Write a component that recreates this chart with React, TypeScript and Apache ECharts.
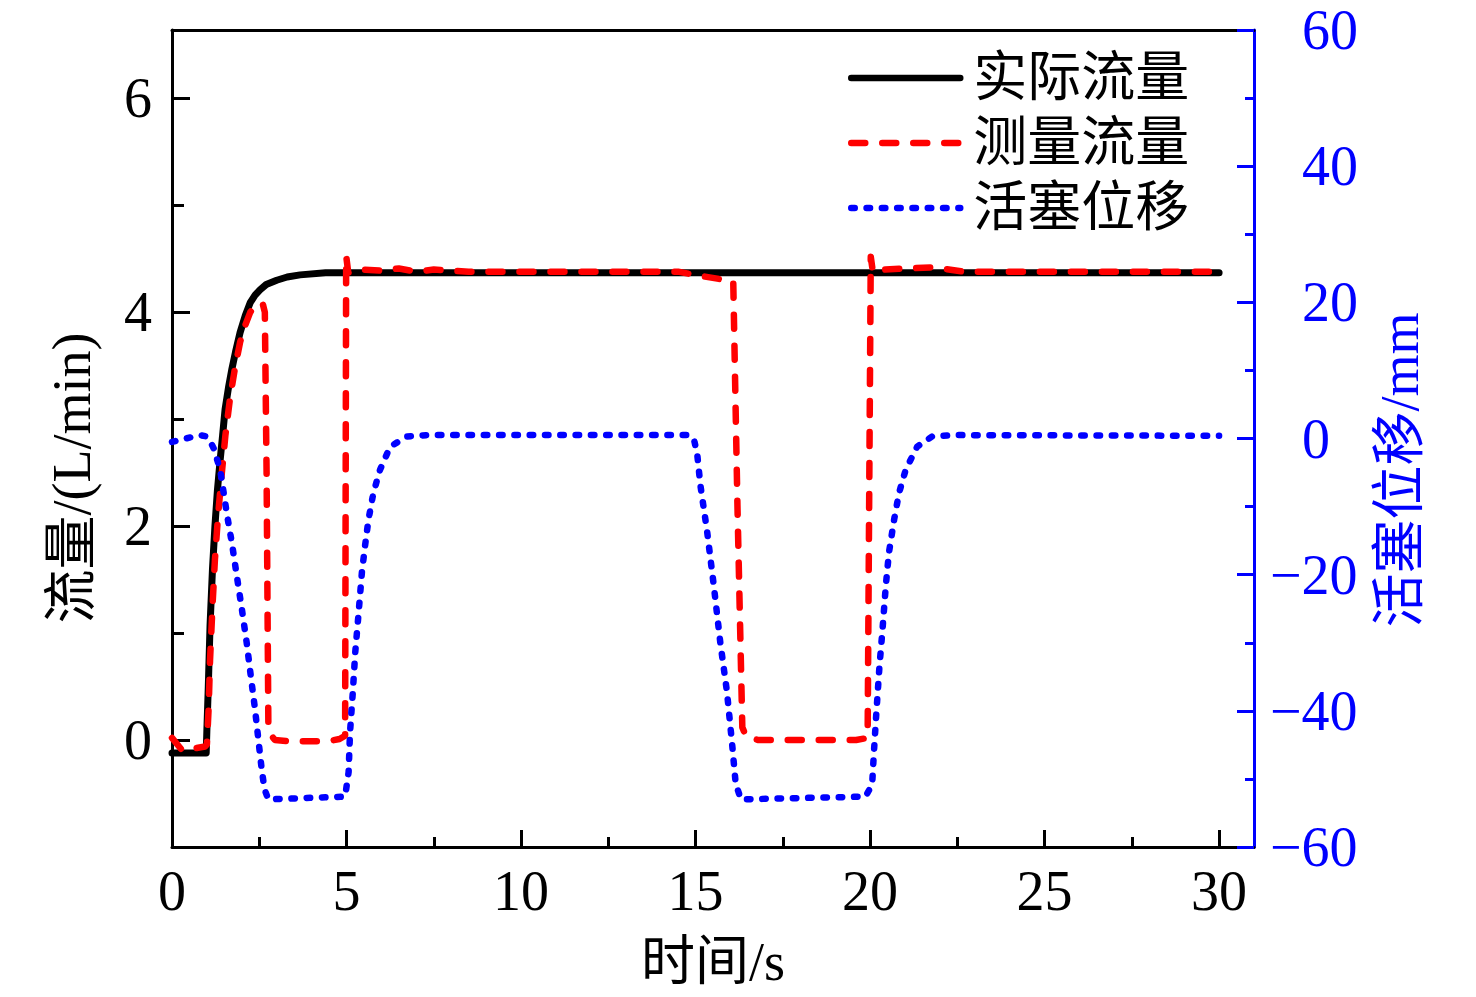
import React, { useEffect, useRef } from "react";
import * as echarts from "echarts";

// ---- data ----
const actualTime = [0, 0.98, 1.0, 1.04, 1.09, 1.16, 1.23, 1.3, 1.38, 1.45, 1.52, 1.62, 1.71, 1.82, 1.95, 2.1, 2.24, 2.38, 2.52, 2.7, 3.0, 3.3, 3.67, 4.4, 30];
const actualFlow = [-0.12, -0.12, 0.1, 0.5, 1.07, 1.6, 2.0, 2.33, 2.62, 2.85, 3.09, 3.3, 3.46, 3.63, 3.81, 3.97, 4.09, 4.16, 4.21, 4.26, 4.3, 4.33, 4.35, 4.37, 4.37];

const measuredTime = [0, 0.3, 0.6, 0.95, 1.0, 1.05, 1.09, 1.16, 1.23, 1.32, 1.42, 1.53, 1.66, 1.8, 1.95, 2.1, 2.24, 2.38, 2.52, 2.6, 2.66, 2.71, 2.76, 2.83, 2.95, 3.3, 4.5, 4.8, 4.96, 4.99, 5.05, 5.4, 6.0, 6.5, 7.0, 7.5, 8.5, 14.5, 15.15, 15.9, 16.08, 16.2, 16.34, 16.45, 16.8, 19.6, 19.93, 20.02, 20.08, 20.4, 21.0, 21.8, 22.7, 30];
const measuredFlow = [0.02, -0.1, -0.08, -0.06, -0.04, 0.3, 0.75, 1.25, 1.69, 2.1, 2.47, 2.85, 3.19, 3.47, 3.72, 3.88, 4.0, 4.06, 4.09, 4.08, 4.0, 2.5, 0.17, 0.05, 0.0, -0.01, -0.01, 0.01, 0.04, 4.53, 4.37, 4.4, 4.39, 4.41, 4.38, 4.4, 4.38, 4.38, 4.34, 4.3, 4.29, 2.2, 0.12, 0.03, 0.0, 0.0, 0.02, 4.52, 4.38, 4.4, 4.41, 4.42, 4.38, 4.38];

const pistonTime = [0, 0.4, 0.8, 1.0, 1.1, 1.2, 1.38, 1.57, 1.72, 1.86, 2.0, 2.14, 2.26, 2.38, 2.48, 2.57, 2.65, 2.76, 4.96, 5.06, 5.1, 5.18, 5.25, 5.34, 5.44, 5.53, 5.63, 5.77, 5.96, 6.25, 6.73, 7.3, 14.8, 14.95, 15.05, 15.14, 15.33, 15.52, 15.71, 15.9, 16.05, 16.15, 16.3, 19.87, 20.06, 20.11, 20.18, 20.27, 20.35, 20.45, 20.54, 20.69, 20.83, 21.02, 21.35, 21.78, 22.36, 30];
const pistonDisp = [-0.5, 0, 0.5, 0.3, -0.5, -1.5, -4.6, -11, -15.5, -20.3, -25, -30, -35, -39.8, -44.5, -48.6, -51.5, -53, -52.6, -49, -43.2, -37.3, -31.4, -26, -19.7, -15.8, -11.9, -8, -4.6, -1.2, 0.3, 0.5, 0.5, 0, -2.4, -6.9, -13.6, -21.5, -30, -37.2, -45, -50.7, -53, -52.6, -50.8, -46.1, -40.3, -33.4, -28.5, -21.7, -16.8, -11.9, -8, -4.6, -1.2, 0.3, 0.5, 0.4];

const xMajorTicks = [0, 5, 10, 15, 20, 25, 30];
const xMinorTicks = [2.5, 7.5, 12.5, 17.5, 22.5, 27.5];
const leftMajorTicks = [0, 2, 4, 6];
const leftMinorTicks = [1, 3, 5];

const seriesNames = ["实际流量", "测量流量", "活塞位移"];
const xTitle = "时间/s";
const leftTitle = "流量/(L/min)";
const rightTitle = "活塞位移/mm";

const FONT = '"Liberation Serif", "Times New Roman", "Noto Sans CJK SC", serif';
const BLACK = "#000000";
const RED = "#ff0000";
const BLUE = "#0000ff";

const pairs = (xs: number[], ys: number[]) => xs.map((x, i) => [x, ys[i]]);

function buildOption(): any {
  return {
    animation: false,
    backgroundColor: "#ffffff",
    grid: { left: 172, right: 222, top: 30, bottom: 150 },
    legend: {
      orient: "vertical",
      left: 848,
      top: 50,
      padding: 0,
      itemWidth: 109,
      itemHeight: 20,
      itemGap: 9,
      selectedMode: false,
      data: seriesNames,
      itemStyle: { opacity: 0 },
      lineStyle: { width: 6.5 },
      textStyle: {
        fontFamily: FONT,
        fontSize: 54,
        lineHeight: 56,
        color: BLACK,
        padding: [0, 0, 0, 8],
      },
    },
    xAxis: [
      {
        type: "value",
        min: 0,
        max: 31,
        position: "bottom",
        name: xTitle,
        nameLocation: "middle",
        nameGap: 88,
        nameTextStyle: { fontFamily: FONT, fontSize: 54, color: BLACK },
        axisLine: { show: true, onZero: false, lineStyle: { color: BLACK, width: 3 } },
        axisTick: {
          show: true,
          inside: true,
          length: 17,
          lineStyle: { color: BLACK, width: 3 },
          customValues: xMajorTicks,
        },
        axisLabel: {
          show: true,
          margin: 16,
          fontFamily: FONT,
          fontSize: 56,
          color: BLACK,
          customValues: xMajorTicks,
        },
        splitLine: { show: false },
      },
      {
        type: "value",
        min: 0,
        max: 31,
        position: "bottom",
        axisLine: { show: false, onZero: false },
        axisTick: {
          show: true,
          inside: true,
          length: 10,
          lineStyle: { color: BLACK, width: 3 },
          customValues: xMinorTicks,
        },
        axisLabel: { show: false },
        splitLine: { show: false },
      },
      {
        type: "value",
        min: 0,
        max: 31,
        position: "top",
        axisLine: { show: true, onZero: false, lineStyle: { color: BLACK, width: 3 } },
        axisTick: { show: false },
        axisLabel: { show: false },
        splitLine: { show: false },
      },
    ],
    yAxis: [
      {
        type: "value",
        min: -1,
        max: 6.64,
        position: "left",
        axisLine: { show: true, onZero: false, lineStyle: { color: BLACK, width: 3 } },
        axisTick: {
          show: true,
          inside: true,
          length: 18,
          lineStyle: { color: BLACK, width: 3 },
          customValues: leftMajorTicks,
        },
        axisLabel: {
          show: true,
          margin: 20,
          fontFamily: FONT,
          fontSize: 56,
          color: BLACK,
          customValues: leftMajorTicks,
        },
        splitLine: { show: false },
      },
      {
        type: "value",
        min: -60,
        max: 60,
        interval: 20,
        position: "right",
        axisLine: { show: true, onZero: false, lineStyle: { color: BLUE, width: 3 } },
        axisTick: {
          show: true,
          inside: true,
          length: 17,
          lineStyle: { color: BLUE, width: 3 },
        },
        minorTick: {
          show: true,
          splitNumber: 2,
          length: 9,
          lineStyle: { color: BLUE, width: 3 },
        },
        axisLabel: {
          show: true,
          margin: 16,
          fontFamily: FONT,
          fontSize: 56,
          color: BLUE,
          formatter: (v: number) => (v < 0 ? "\u2212" + Math.abs(v) : "{p|}" + v),
          rich: { p: { width: 32 } },
        },
        splitLine: { show: false },
        minorSplitLine: { show: false },
      },
      {
        type: "value",
        min: -1,
        max: 6.64,
        position: "left",
        axisLine: { show: false, onZero: false },
        axisTick: {
          show: true,
          inside: true,
          length: 12,
          lineStyle: { color: BLACK, width: 3 },
          customValues: leftMinorTicks,
        },
        axisLabel: { show: false },
        splitLine: { show: false },
      },
    ],
    series: [
      {
        name: seriesNames[0],
        type: "line",
        xAxisIndex: 0,
        yAxisIndex: 0,
        symbol: "none",
        showSymbol: false,
        data: pairs(actualTime, actualFlow),
        lineStyle: { color: BLACK, width: 7, cap: "round", join: "round" },
        itemStyle: { color: BLACK },
        z: 2,
      },
      {
        name: seriesNames[1],
        type: "line",
        xAxisIndex: 0,
        yAxisIndex: 0,
        symbol: "none",
        showSymbol: false,
        data: pairs(measuredTime, measuredFlow),
        lineStyle: { color: RED, width: 6.5, type: [14, 17], cap: "round", join: "round" },
        itemStyle: { color: RED },
        z: 3,
      },
      {
        name: seriesNames[2],
        type: "line",
        xAxisIndex: 0,
        yAxisIndex: 1,
        symbol: "none",
        showSymbol: false,
        data: pairs(pistonTime, pistonDisp),
        lineStyle: { color: BLUE, width: 6.5, type: [3.5, 11.8], cap: "round", join: "round" },
        itemStyle: { color: BLUE },
        z: 4,
      },
    ],
    graphic: [
      {
        type: "text",
        x: 72,
        y: 478,
        rotation: Math.PI / 2,
        style: {
          text: leftTitle,
          fontFamily: FONT,
          fontSize: 54,
          fill: BLACK,
          align: "center",
          verticalAlign: "middle",
        },
      },
      {
        type: "text",
        x: 1400,
        y: 470,
        rotation: Math.PI / 2,
        style: {
          text: rightTitle,
          fontFamily: FONT,
          fontSize: 54,
          fill: BLUE,
          align: "center",
          verticalAlign: "middle",
        },
      },
    ],
  };
}

export default function App() {
  const ref = useRef<HTMLDivElement>(null);
  useEffect(() => {
    document.body.style.margin = "0";
    const chart = echarts.init(ref.current as HTMLDivElement, null, { renderer: "svg" });
    chart.setOption(buildOption());
    return () => {
      chart.dispose();
    };
  }, []);
  return <div ref={ref} style={{ width: 1476, height: 997, background: "#ffffff" }} />;
}
